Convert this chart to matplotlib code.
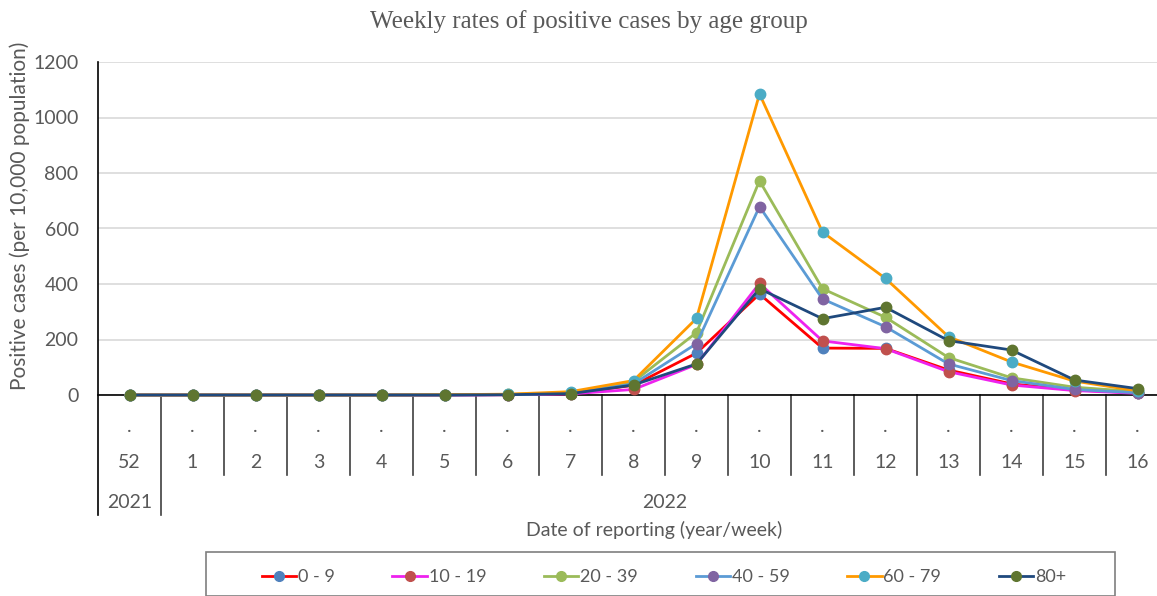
import matplotlib
matplotlib.use("Agg")
import matplotlib.pyplot as plt
from matplotlib.lines import Line2D
from matplotlib.patches import Rectangle

weeks = ["52", "1", "2", "3", "4", "5", "6", "7", "8", "9", "10", "11", "12", "13", "14", "15", "16"]
years = ["2021", "2022"]
series_names = ["0 - 9", "10 - 19", "20 - 39", "40 - 59", "60 - 79", "80+"]
v_0_9 = [0, 0, 0, 0, 0, 0, 1, 5, 35, 151, 364, 169, 168, 90, 40, 18, 8]
v_10_19 = [0, 0, 0, 0, 0, 0, 1, 4, 20, 110, 402, 195, 167, 84, 36, 16, 6]
v_20_39 = [0, 0, 0, 0, 0, 1, 2, 8, 48, 225, 772, 383, 280, 135, 62, 28, 12]
v_40_59 = [0, 0, 0, 0, 0, 0, 1, 6, 40, 185, 679, 346, 246, 112, 52, 20, 8]
v_60_79 = [0, 0, 0, 0, 0, 1, 3, 12, 52, 276, 1085, 587, 420, 210, 119, 50, 15]
v_80p = [0, 0, 0, 0, 0, 0, 1, 5, 36, 112, 383, 275, 316, 196, 162, 54, 23]
values = [v_0_9, v_10_19, v_20_39, v_40_59, v_60_79, v_80p]
line_colors = ["#FF0000", "#EE22EE", "#9BBB59", "#5B9BD5", "#FF9900", "#1F497D"]
marker_colors = ["#4F81BD", "#C0504D", "#9BBB59", "#8064A2", "#4BACC6", "#5F7530"]
yticks = [0, 200, 400, 600, 800, 1000, 1200]

W, H = 1157, 596
TXT = "#595959"
FS = 14
plt.rcParams['font.family'] = ['Lato', 'DejaVu Sans']

fig = plt.figure(figsize=(W / 100, H / 100), dpi=100)
L, R, T, B = 98, 1169, 62, 395
ax = fig.add_axes([L / W, 1 - B / H, (R - L) / W, (B - T) / H])

x = list(range(len(weeks)))
for vals, lc, mc, name in zip(values, line_colors, marker_colors, series_names):
    ax.plot(x, vals, color=lc, lw=2.0, marker="o", ms=7.5, mfc=mc, mec=mc,
            label=name, clip_on=False, zorder=3)

ax.set_xlim(-0.5, len(weeks) - 0.5)
ax.set_ylim(0, 1200)
ax.set_yticks(yticks)
ax.set_yticklabels([str(t) for t in yticks], color=TXT, fontsize=FS)
ax.tick_params(axis="y", length=0, pad=14)
ax.set_xticks([])
ax.grid(axis="y", color="#D9D9D9", lw=1.2)
ax.set_axisbelow(True)
for s in ["top", "right"]:
    ax.spines[s].set_visible(False)
ax.spines["left"].set_visible(False)
ax.spines["bottom"].set_color("black")
ax.spines["bottom"].set_linewidth(1.2)

# axis lines / category separators
def ay(py):
    return (B - py) / (B - T)

ax.plot([-0.5, -0.5], [ay(T), ay(515)], transform=ax.get_xaxis_transform(),
        color="black", lw=1.2, clip_on=False)
for k in range(1, len(weeks)):
    bottom = 515 if k == 1 else 475
    ax.plot([k - 0.5, k - 0.5], [0, ay(bottom)], transform=ax.get_xaxis_transform(),
            color="#404040", lw=1.2, clip_on=False)

for i, w in enumerate(weeks):
    ax.text(i, ay(427), ".", transform=ax.get_xaxis_transform(), ha="center", va="center",
            color=TXT, fontsize=FS)
    ax.text(i, ay(463), w, transform=ax.get_xaxis_transform(), ha="center", va="center",
            color=TXT, fontsize=FS)
ax.text(0, ay(503), years[0], transform=ax.get_xaxis_transform(), ha="center", va="center",
        color=TXT, fontsize=FS)
ax.text((1 + len(weeks) - 1) / 2, ay(503), years[1], transform=ax.get_xaxis_transform(),
        ha="center", va="center", color=TXT, fontsize=FS)

fig.text(654 / W, 1 - 530 / H, "Date of reporting (year/week)", ha="center", va="center",
         color=TXT, fontsize=FS)
fig.text(20 / W, 1 - 216 / H, "Positive cases (per 10,000 population)", rotation=90,
         ha="center", va="center", color=TXT, fontsize=15)
fig.text(589 / W, 1 - 22 / H, "Weekly rates of positive cases by age group",
         ha="center", va="center", color=TXT, fontsize=18,
         family=["Liberation Serif", "DejaVu Serif"])

# legend
fig.patches.append(Rectangle((206 / W, 0), (1115 - 206) / W, 1 - 552 / H,
                             transform=fig.transFigure, fill=False,
                             edgecolor="#7F7F7F", lw=1.2))
handles = [Line2D([0], [0], color=lc, lw=2.0, marker="o", ms=7, mfc=mc, mec=mc)
           for lc, mc in zip(line_colors, marker_colors)]
fig.legend(handles, series_names, loc="center", bbox_to_anchor=(664 / W, 1 - 577 / H),
           ncol=6, frameon=False, fontsize=13, handlelength=1.9, handletextpad=0.1,
           columnspacing=3.2, labelcolor=TXT)

fig.savefig("out.png", dpi=100)
